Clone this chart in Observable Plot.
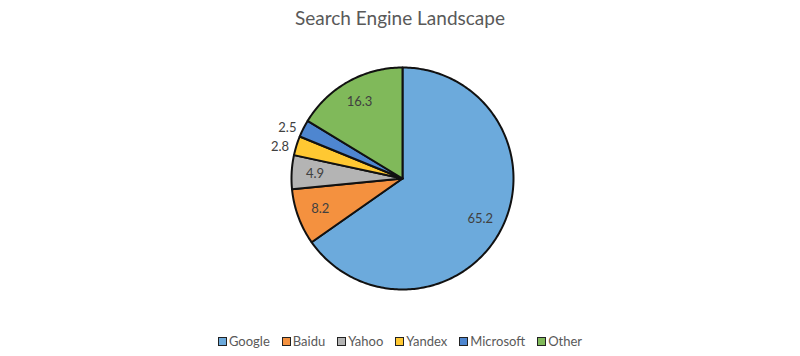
<!DOCTYPE html>
<html>
<head>
<meta charset="utf-8">
<script src="https://cdn.jsdelivr.net/npm/d3@7"></script>
<script src="https://cdn.jsdelivr.net/npm/@observablehq/plot@0.6"></script>
<style>
  body { margin: 0; background: #fff; font-family: Lato, "Open Sans", sans-serif; }
  #wrap { width: 800px; height: 356px; position: relative; }
  #title { height: 36px; line-height: 36px; text-align: center; font-size: 19px; color: #595959; }
  #legend { height: 30px; display: flex; justify-content: center; align-items: center; font-size: 13px; color: #595959; }
  .item { display: flex; align-items: center; margin: 0 6px; }
  .sw { width: 7px; height: 7px; border: 1.5px solid #222; margin-right: 2px; }
  svg { display: block; }
</style>
</head>
<body>
<div id="wrap">
  <div id="title">Search Engine Landscape</div>
  <div id="chart"></div>
  <div id="legend"></div>
</div>
<script>
const categories = ["Google", "Baidu", "Yahoo", "Yandex", "Microsoft", "Other"];
const shares = [65.2, 8.2, 4.9, 2.8, 2.5, 16.3];
const colors = ["#6CAADC", "#F4913F", "#B4B4B4", "#FFC832", "#4E86D0", "#80B95A"];
const outsideLabels = ["Yandex", "Microsoft"];

const W = 800, H = 290, R = 111, cx = 402, cy = 142;

const arcs = d3.pie().sort(null)(shares);
const rows = [];
arcs.forEach((a, i) => {
  const cat = categories[i];
  rows.push({cat, x: 0, y: 0});
  const n = Math.max(4, Math.ceil((a.endAngle - a.startAngle) / (Math.PI / 180)));
  for (let k = 0; k <= n; k++) {
    const t = a.startAngle + (a.endAngle - a.startAngle) * k / n;
    rows.push({cat, x: Math.sin(t), y: Math.cos(t)});
  }
  rows.push({cat, x: 0, y: 0});
});

const labels = arcs.map((a, i) => {
  const mid = (a.startAngle + a.endAngle) / 2;
  const out = outsideLabels.includes(categories[i]);
  const r = out ? 1.07 : 0.79;
  return {cat: categories[i], value: shares[i], out, x: r * Math.sin(mid), y: r * Math.cos(mid)};
});

const chart = Plot.plot({
  width: W, height: H,
  margin: 0,
  x: {domain: [-cx / R, (W - cx) / R], range: [0, W], axis: null},
  y: {domain: [-(H - cy) / R, cy / R], range: [H, 0], axis: null},
  color: {domain: categories, range: colors},
  style: {fontFamily: "Lato, 'Open Sans', sans-serif"},
  marks: [
    Plot.line(rows, {x: "x", y: "y", z: "cat", fill: "cat", stroke: "#111", strokeWidth: 2, strokeLinejoin: "round", curve: "linear"}),
    Plot.text(labels.filter(d => !d.out), {x: "x", y: "y", text: d => d.value.toFixed(1), fill: "#404040", fontSize: 13}),
    Plot.text(labels.filter(d => d.out), {x: "x", y: "y", text: d => d.value.toFixed(1), fill: "#404040", fontSize: 13, textAnchor: "end", dy: 3})
  ]
});
document.getElementById("chart").appendChild(chart);

const legend = document.getElementById("legend");
categories.forEach((c, i) => {
  const item = document.createElement("div");
  item.className = "item";
  const sw = document.createElement("span");
  sw.className = "sw";
  sw.style.background = colors[i];
  const tx = document.createElement("span");
  tx.textContent = c;
  item.appendChild(sw);
  item.appendChild(tx);
  legend.appendChild(item);
});
</script>
</body>
</html>
